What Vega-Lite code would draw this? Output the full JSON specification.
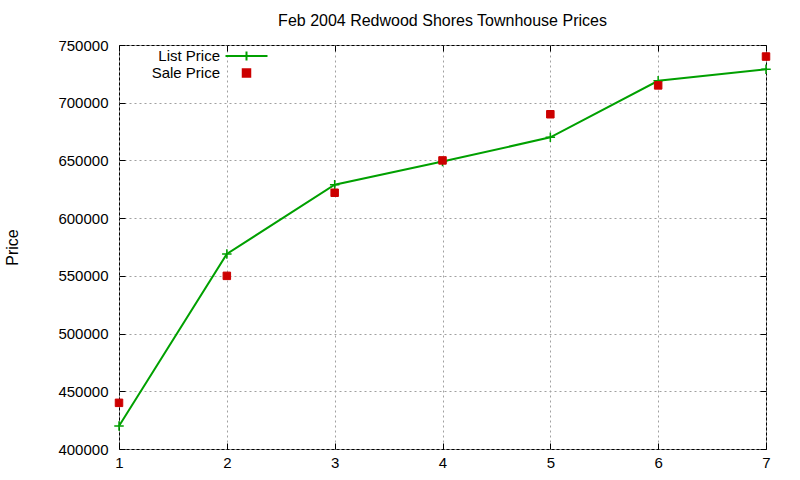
{
  "$schema": "https://vega.github.io/schema/vega-lite/v6.json",
  "width": 647,
  "height": 404,
  "autosize": "none",
  "padding": {"left": 119, "top": 45, "right": 34, "bottom": 31},
  "background": "white",
  "config": {
    "font": "Liberation Sans",
    "view": {"stroke": "black", "strokeWidth": 1},
    "axis": {
      "labelFont": "Liberation Sans",
      "labelFontSize": 15,
      "labelColor": "black",
      "titleFont": "Liberation Sans",
      "titleFontSize": 16,
      "titleFontWeight": "normal",
      "titleColor": "black",
      "domain": false,
      "tickColor": "black",
      "tickSize": -6,
      "gridColor": "#a0a0a0",
      "gridDash": [2, 3],
      "gridWidth": 1,
      "gridOpacity": 1
    },
    "legend": {
      "labelFont": "Liberation Sans",
      "labelFontSize": 15,
      "labelColor": "black",
      "labelAlign": "right",
      "labelOffset": -35,
      "symbolSize": 225,
      "symbolStrokeWidth": 2,
      "symbolOpacity": 1,
      "rowPadding": -2,
      "padding": 0
    }
  },
  "title": {
    "text": "Feb 2004 Redwood Shores Townhouse Prices",
    "font": "Liberation Sans",
    "fontSize": 16,
    "fontWeight": "normal",
    "color": "black",
    "anchor": "middle",
    "offset": 9
  },
  "data": {
    "values": [
      {"n": 1, "series": "List Price", "price": 420000},
      {"n": 2, "series": "List Price", "price": 569000},
      {"n": 3, "series": "List Price", "price": 629000},
      {"n": 4, "series": "List Price", "price": 649000},
      {"n": 5, "series": "List Price", "price": 670000},
      {"n": 6, "series": "List Price", "price": 719000},
      {"n": 7, "series": "List Price", "price": 729000},
      {"n": 1, "series": "Sale Price", "price": 440000},
      {"n": 2, "series": "Sale Price", "price": 550000},
      {"n": 3, "series": "Sale Price", "price": 622000},
      {"n": 4, "series": "Sale Price", "price": 650000},
      {"n": 5, "series": "Sale Price", "price": 690000},
      {"n": 6, "series": "Sale Price", "price": 715000},
      {"n": 7, "series": "Sale Price", "price": 740000}
    ]
  },
  "resolve": {"axis": {"x": "independent", "y": "independent"}},
  "layer": [
    {
      "transform": [{"filter": "datum.series === 'List Price'"}],
      "mark": {"type": "line", "color": "#00a000", "strokeWidth": 2},
      "encoding": {
        "x": {
          "field": "n",
          "type": "quantitative",
          "scale": {"domain": [1, 7], "nice": false, "zero": false},
          "axis": {"title": null, "values": [1, 2, 3, 4, 5, 6, 7], "format": "d", "labelPadding": 12, "labelFlush": false}
        },
        "y": {
          "field": "price",
          "type": "quantitative",
          "scale": {"domain": [400000, 750000], "nice": false, "zero": false},
          "axis": {"title": "Price", "values": [400000, 450000, 500000, 550000, 600000, 650000, 700000, 750000], "format": "d", "labelPadding": 17, "titlePadding": 37, "labelFlush": false}
        }
      }
    },
    {
      "transform": [{"filter": "datum.series === 'List Price'"}],
      "mark": {"type": "point", "shape": "M-1,0L1,0M0,-1L0,1", "filled": false, "size": 90, "strokeWidth": 1.5, "opacity": 1, "color": "#00a000"},
      "encoding": {
        "x": {"field": "n", "type": "quantitative", "axis": null},
        "y": {"field": "price", "type": "quantitative", "axis": null}
      }
    },
    {
      "transform": [{"filter": "datum.series === 'Sale Price'"}],
      "mark": {"type": "point", "filled": true, "size": 225, "strokeWidth": 1, "opacity": 1},
      "encoding": {
        "x": {
          "field": "n",
          "type": "quantitative",
          "axis": {"orient": "top", "title": null, "values": [1, 2, 3, 4, 5, 6, 7], "labels": false, "grid": false}
        },
        "y": {
          "field": "price",
          "type": "quantitative",
          "axis": {"orient": "right", "title": null, "values": [400000, 450000, 500000, 550000, 600000, 650000, 700000, 750000], "labels": false, "grid": false}
        },
        "color": {
          "field": "series",
          "type": "nominal",
          "scale": {"domain": ["List Price", "Sale Price"], "range": ["#00a000", "#cc0000"]},
          "legend": {"title": null, "orient": "none", "legendX": 119, "legendY": 2.5}
        },
        "stroke": {
          "field": "series",
          "type": "nominal",
          "scale": {"domain": ["List Price", "Sale Price"], "range": ["#00a000", "#cc0000"]},
          "legend": {"title": null, "orient": "none", "legendX": 119, "legendY": 2.5}
        },
        "shape": {
          "field": "series",
          "type": "nominal",
          "scale": {"domain": ["List Price", "Sale Price"], "range": ["M-2.8,0L2.8,0M0,-0.6L0,0.6", "M-0.5,-0.5L0.5,-0.5L0.5,0.5L-0.5,0.5Z"]},
          "legend": {"title": null, "orient": "none", "legendX": 119, "legendY": 2.5}
        }
      }
    }
  ]
}
